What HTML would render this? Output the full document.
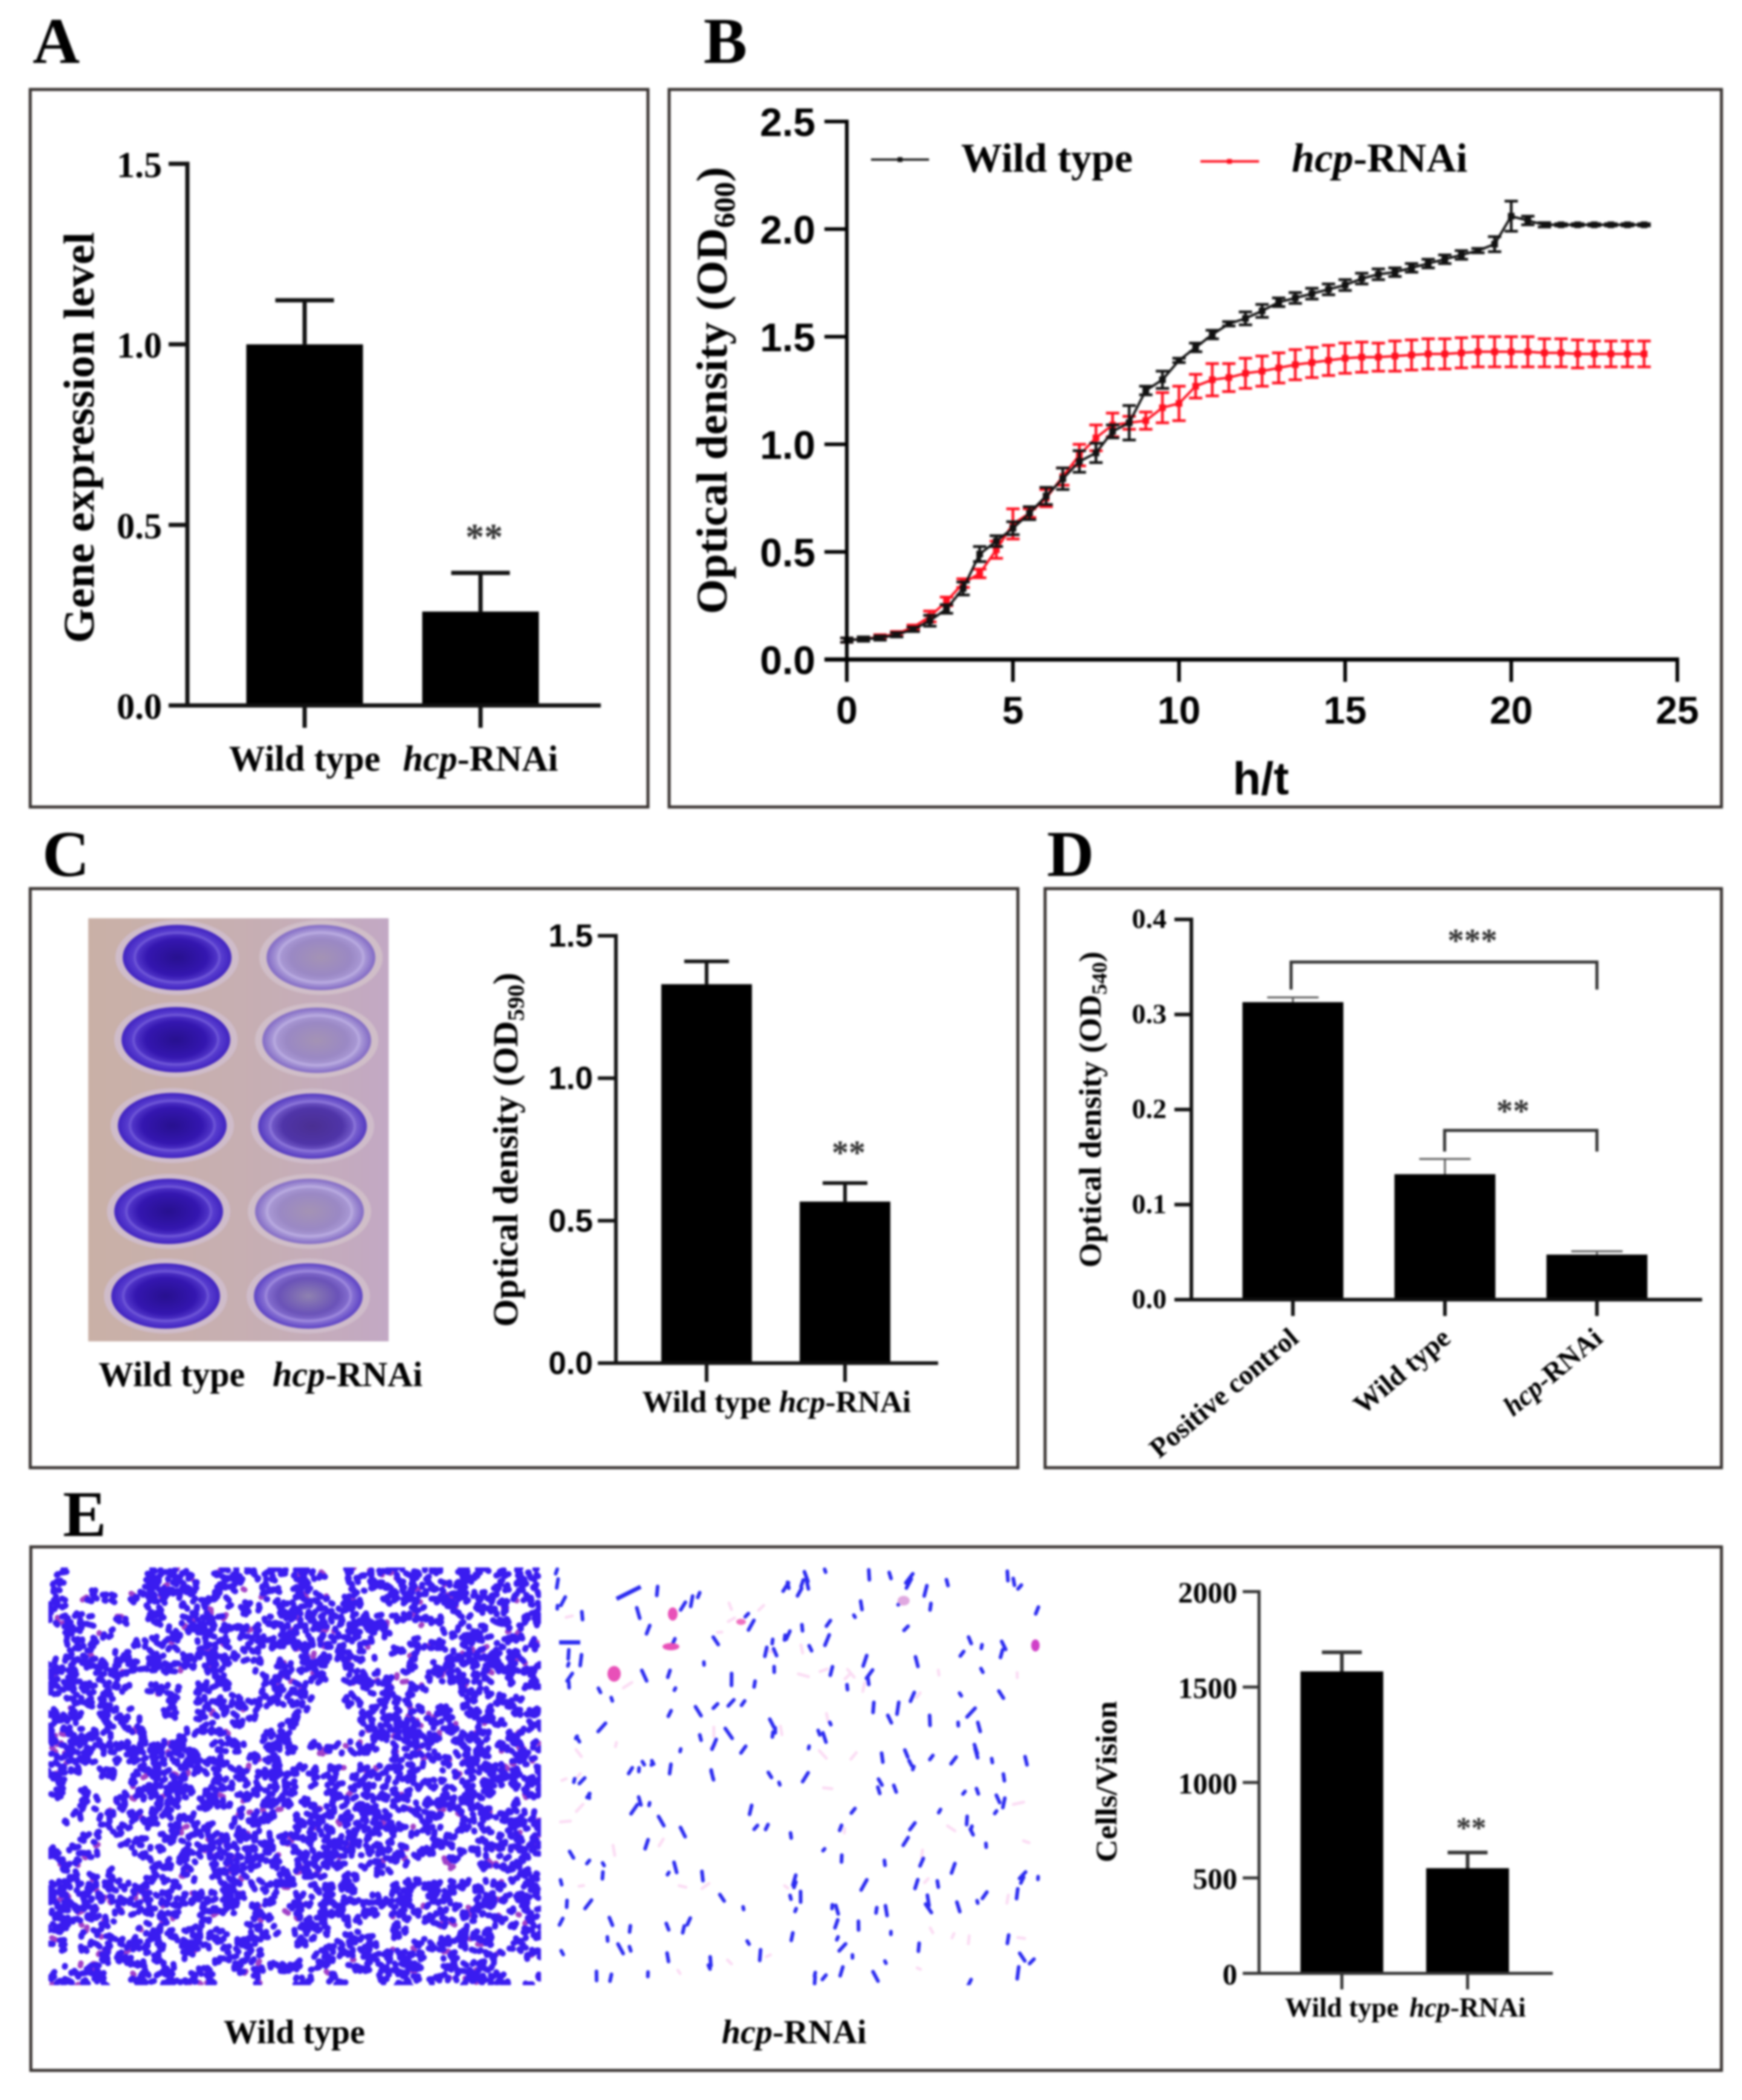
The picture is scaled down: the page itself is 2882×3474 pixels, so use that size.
<!DOCTYPE html>
<html lang="en">
<head>
<meta charset="utf-8">
<title>hcp-RNAi phenotype figure</title>
<style>
html,body{margin:0;padding:0;background:#fff}
svg{display:block;filter:blur(1.9px)}
text{font-family:"Liberation Serif",serif;font-weight:bold;fill:#000}
.sans{font-family:"Liberation Sans",sans-serif}
.letter{font-size:108px}
</style>
</head>
<body>
<svg id="figure" xmlns="http://www.w3.org/2000/svg" width="2882" height="3474" viewBox="0 0 2882 3474">
  <defs>
    <linearGradient id="plateBg" x1="0" x2="1" y1="0" y2="0"><stop offset="0" stop-color="#c9b0a6"/><stop offset=".6" stop-color="#c6aeb4"/><stop offset="1" stop-color="#c2a8c4"/></linearGradient>
    <radialGradient id="gDark"><stop offset="0" stop-color="#27108f"/><stop offset=".55" stop-color="#3416b0"/><stop offset=".8" stop-color="#5a3fd0"/><stop offset="1" stop-color="#3f22c0"/></radialGradient>
    <radialGradient id="gLight"><stop offset="0" stop-color="#a493b4"/><stop offset=".55" stop-color="#9a88c4"/><stop offset=".8" stop-color="#ac9cd8"/><stop offset="1" stop-color="#8068c4"/></radialGradient>
    <radialGradient id="gMid"><stop offset="0" stop-color="#4a2f92"/><stop offset=".55" stop-color="#4f34a8"/><stop offset=".8" stop-color="#7a62d0"/><stop offset="1" stop-color="#5238c0"/></radialGradient>
    <radialGradient id="gMidLight"><stop offset="0" stop-color="#8f82b0"/><stop offset=".55" stop-color="#6a52b8"/><stop offset=".8" stop-color="#8a74d4"/><stop offset="1" stop-color="#5a40c4"/></radialGradient>
    <g id="wellDark"><ellipse rx="102" ry="62" fill="#cfbcca"/><ellipse rx="90" ry="54" fill="url(#gDark)"/><ellipse rx="70" ry="41" fill="none" stroke="#6d55d6" stroke-width="4"/></g>
    <g id="wellLight"><ellipse rx="102" ry="62" fill="#d0bec8"/><ellipse rx="90" ry="54" fill="url(#gLight)"/><ellipse rx="70" ry="41" fill="none" stroke="#b8aae0" stroke-width="4"/></g>
    <g id="wellMid"><ellipse rx="102" ry="62" fill="#cfbcca"/><ellipse rx="90" ry="54" fill="url(#gMid)"/><ellipse rx="70" ry="41" fill="none" stroke="#8a74d8" stroke-width="4"/></g>
    <g id="wellMidLight"><ellipse rx="102" ry="62" fill="#cfbcca"/><ellipse rx="90" ry="54" fill="url(#gMidLight)"/><ellipse rx="70" ry="41" fill="none" stroke="#9c88dc" stroke-width="4"/></g>
    <clipPath id="clipWild"><rect x="80" y="2593" width="815" height="691"/></clipPath>
    <clipPath id="clipRnai"><rect x="915" y="2593" width="818" height="691"/></clipPath>
  </defs>
  <rect width="2882" height="3474" fill="#fff"/>

  <g fill="none" stroke="#3a3533" stroke-width="5">
    <rect x="50" y="148" width="1022" height="1187"/>
    <rect x="1107" y="148" width="1741" height="1187"/>
    <rect x="50" y="1470" width="1634" height="958"/>
    <rect x="1729" y="1470" width="1119" height="958"/>
    <rect x="51" y="2559" width="2797" height="866"/>
  </g>

  <text class="letter" x="54" y="104">A</text>
  <text class="letter" x="1164" y="104">B</text>
  <text class="letter" x="70" y="1449">C</text>
  <text class="letter" x="1732" y="1449">D</text>
  <text class="letter" x="104" y="2541">E</text>

  <!-- Panel C plate photograph -->
  <g>
    <rect x="146" y="1519" width="497" height="700" fill="url(#plateBg)"/>
    <use href="#wellDark" x="293" y="1584"/>
    <use href="#wellDark" x="291" y="1720"/>
    <use href="#wellDark" x="285" y="1862"/>
    <use href="#wellDark" x="279" y="2004"/>
    <use href="#wellDark" x="274" y="2144"/>
    <use href="#wellLight" x="531" y="1584"/>
    <use href="#wellLight" x="524" y="1721"/>
    <use href="#wellMid" x="517" y="1863"/>
    <use href="#wellLight" x="512" y="2004"/>
    <use href="#wellMidLight" x="510" y="2144"/>
  </g>
  <text x="163" y="2293" font-size="58">Wild type</text>
  <text x="451" y="2293" font-size="58"><tspan font-style="italic">hcp</tspan>-RNAi</text>

  <!-- Panel E micrographs -->
  <g clip-path="url(#clipWild)">
    <path id="rodsWildPink" fill="none" stroke="#a040c8" stroke-width="9" stroke-linecap="round"/>
    <path id="rodsWildBlue" fill="none" stroke="#3a1cf0" stroke-width="10" stroke-linecap="round"/>
  </g>
  <g clip-path="url(#clipRnai)">
    <path id="rodsRnaiPink" fill="none" stroke="#fbdcf4" stroke-width="5" stroke-linecap="round"/>
    <path id="rodsRnaiBlue" fill="none" stroke="#2a2af0" stroke-width="6" stroke-linecap="round"/>
    <ellipse cx="1113" cy="2670" rx="8" ry="11" fill="#e850b8"/>
    <ellipse cx="1016" cy="2769" rx="11" ry="13" fill="#e850b8"/>
    <ellipse cx="1110" cy="2724" rx="14" ry="6" fill="#e850b8"/>
    <ellipse cx="1495" cy="2648" rx="10" ry="8" fill="#e0a8e0"/>
    <ellipse cx="1713" cy="2722" rx="7" ry="10" fill="#d040c8"/>
    <ellipse cx="1226" cy="2683" rx="8" ry="5" fill="#f070c0"/>
    <path d="M1020 2645 L1060 2625 M925 2717 L960 2717" stroke="#2a2af0" stroke-width="7" fill="none"/>
  </g>
  <text x="370" y="3380" font-size="56">Wild type</text>
  <text x="1194" y="3380" font-size="56"><tspan font-style="italic">hcp</tspan>-RNAi</text>

  <g id="chartA"></g>
  <g id="chartB"></g>
  <g id="chartC"></g>
  <g id="chartD"></g>
  <g id="chartE"></g>
</svg>

<script>
// ---- Panel A data ----
const aCategories = ['Wild type', 'hcp-RNAi'];
const aValues = [1.0, 0.26];
const aErrors = [0.122, 0.107];
const aTickLabels = ['0.0', '0.5', '1.0', '1.5'];
const aSignificance = ['', '**'];

// ---- Panel C data ----
const cCategories = ['Wild type', 'hcp-RNAi'];
const cValues = [1.33, 0.567];
const cErrors = [0.08, 0.065];
const cTickLabels = ['0.0', '0.5', '1.0', '1.5'];
const cSignificance = ['', '**'];

// ---- Panel D data ----
const dCategories = ['Positive control', 'Wild type', 'hcp-RNAi'];
const dValues = [0.313, 0.132, 0.0474];
const dErrors = [0.005, 0.016, 0.0035];
const dTickLabels = ['0.0', '0.1', '0.2', '0.3', '0.4'];

// ---- Panel E data ----
const eCategories = ['Wild type', 'hcp-RNAi'];
const eValues = [1582, 551];
const eErrors = [100, 82];
const eTickLabels = ['0', '500', '1000', '1500', '2000'];
const eSignificance = ['', '**'];

// ---- Panel B data ----
const bTimes = [0,0.5,1,1.5,2,2.5,3,3.5,4,4.5,5,5.5,6,6.5,7,7.5,8,8.5,9,9.5,10,10.5,11,11.5,12,12.5,13,13.5,14,14.5,15,15.5,16,16.5,17,17.5,18,18.5,19,19.5,20,20.5,21,21.5,22,22.5,23,23.5,24];
const bWildValues = [0.09,0.095,0.10,0.115,0.14,0.18,0.235,0.33,0.49,0.55,0.61,0.68,0.76,0.84,0.92,0.96,1.06,1.10,1.25,1.30,1.39,1.45,1.51,1.56,1.585,1.62,1.66,1.68,1.70,1.72,1.74,1.77,1.79,1.80,1.82,1.84,1.86,1.88,1.90,1.93,2.06,2.04,2.02,2.02,2.02,2.02,2.02,2.02,2.02];
const bWildErrors = [0.01,0.01,0.01,0.01,0.01,0.025,0.02,0.03,0.035,0.025,0.03,0.03,0.04,0.05,0.05,0.045,0.03,0.08,0.02,0.04,0.01,0.02,0.02,0.01,0.03,0.03,0.02,0.025,0.025,0.025,0.025,0.025,0.025,0.02,0.02,0.02,0.02,0.02,0.01,0.035,0.07,0.02,0.01,0.005,0.005,0.005,0.005,0.005,0.005];
const bRnaiValues = [0.09,0.095,0.105,0.12,0.15,0.20,0.27,0.355,0.40,0.51,0.63,0.68,0.75,0.85,0.95,1.03,1.09,1.10,1.11,1.17,1.19,1.27,1.30,1.31,1.33,1.34,1.355,1.37,1.38,1.39,1.40,1.405,1.405,1.41,1.415,1.42,1.42,1.425,1.43,1.43,1.43,1.43,1.425,1.425,1.42,1.42,1.42,1.42,1.42];
const bRnaiErrors = [0.01,0.005,0.01,0.01,0.01,0.025,0.02,0.02,0.02,0.04,0.07,0.02,0.04,0.04,0.05,0.06,0.055,0.03,0.04,0.07,0.08,0.055,0.075,0.065,0.07,0.07,0.07,0.07,0.07,0.07,0.07,0.07,0.065,0.07,0.07,0.07,0.07,0.07,0.07,0.07,0.07,0.07,0.065,0.065,0.065,0.06,0.06,0.06,0.06];
const bXTickLabels = ['0', '5', '10', '15', '20', '25'];
const bYTickLabels = ['0.0', '0.5', '1.0', '1.5', '2.0', '2.5'];

// ---- Micrograph texture density (relative cell coverage by image region) ----
const wildDensity = [
  [.5,.4,.8,.7,.7,.6,.8,.9,.9,.8],
  [.6,.4,.5,.7,.6,.8,.6,.7,.6,.6],
  [.5,.5,.8,.7,.7,.8,.5,.7,.7,.7],
  [.6,.7,.5,.6,.6,.5,.7,.6,.8,.7],
  [.8,.8,.4,.7,.5,.4,.7,.95,.7,.7],
  [.6,.7,.8,.6,.8,.5,.6,.7,.7,.9],
  [.5,.4,.7,.9,.8,.6,.8,.8,.7,.7],
  [.2,.4,.7,.7,.6,1,.9,.7,.7,.7],
  [.6,.5,.7,.8,.7,.6,.8,.7,.6,.6],
  [.9,.7,.8,.9,.5,.8,.6,.8,.7,.8],
  [.7,.7,.7,.6,.5,.8,.7,.4,.7,.6],
  [.6,.8,.7,.6,.7,.6,.7,.6,.7,.7]
];

const SVGNS = 'http://www.w3.org/2000/svg';
function mk(parent, tag, attrs, content) {
  const el = document.createElementNS(SVGNS, tag);
  for (const k in attrs) el.setAttribute(k, attrs[k]);
  if (content !== undefined) el.textContent = content;
  parent.appendChild(el);
  return el;
}
function mkLine(parent, x1, y1, x2, y2, stroke, width) {
  return mk(parent, 'line', {x1: x1, y1: y1, x2: x2, y2: y2, stroke: stroke, 'stroke-width': width});
}
function fillCategory(el, cat) {
  if (cat.indexOf('hcp') === 0) {
    mk(el, 'tspan', {'font-style': 'italic'}, 'hcp');
    mk(el, 'tspan', {}, cat.slice(3));
  } else {
    el.textContent = cat;
  }
}
function yTitle(parent, x, yBottom, len, size, main, sub) {
  const t = mk(parent, 'text', {
    transform: 'translate(' + x + ' ' + yBottom + ') rotate(-90)',
    'font-size': size, textLength: len, lengthAdjust: 'spacingAndGlyphs'
  });
  
  
  if (sub) {
    mk(t, 'tspan', {}, main);
    mk(t, 'tspan', {dy: size * 0.18, 'font-size': size * 0.68}, sub);
    mk(t, 'tspan', {dy: -size * 0.18}, ')');
  } else {
    t.textContent = main;
  }
}

function drawBarChart(group, categories, values, errors, tickLabels, significance, o) {
  const yMax = parseFloat(tickLabels[tickLabels.length - 1]);
  const y = v => o.yBase - v / yMax * (o.yBase - o.yTop);
  const x = i => o.firstCenter + i * o.step;

  values.forEach((v, i) => {
    const bar = mk(group, 'rect', {x: x(i) - o.barW / 2, y: y(v), width: o.barW, height: o.yBase - y(v), fill: '#000'});
    
    
    const stem = mkLine(group, x(i), y(v), x(i), y(v + errors[i]), o.errColor || '#111', o.errStem || 6);
    
    
    const cap = mkLine(group, x(i) - o.capW / 2, y(v + errors[i]), x(i) + o.capW / 2, y(v + errors[i]), o.errColor || '#111', o.errStem || 6);
    
    
    const tick = mkLine(group, x(i), o.yBase, x(i), o.tickBottom, o.axisColor, o.axisW);
    
    

    if (!o.rotateLabels) {
      const lab = mk(group, 'text', {x: x(i), y: o.catBaseline, 'text-anchor': 'middle', 'font-size': o.catFont});
      
      
      fillCategory(lab, categories[i]);
    } else {
      const lab = mk(group, 'text', {
        transform: 'translate(' + (x(i) + 12) + ' ' + o.catBaseline + ') rotate(-40)',
        'text-anchor': 'end', 'font-size': o.catFont
      });
      
      
      fillCategory(lab, categories[i]);
    }

    if (significance && significance[i]) {
      const star = mk(group, 'text', {
        x: x(i) + 6, y: y(v + errors[i]) - o.starGap + o.starFont * 0.47,
        'text-anchor': 'middle', 'font-size': o.starFont, style: 'fill:#333'
      }, significance[i]);
      
      
    }
  });

  const yAxis = mkLine(group, o.axisX, o.yTop - o.axisW / 2, o.axisX, o.yBase, o.axisColor, o.axisW);
  
  
  const xAxis = mkLine(group, o.tickLeft, o.yBase, o.axisEnd, o.yBase, o.axisColor, o.axisW);
  
  

  tickLabels.forEach(label => {
    const v = parseFloat(label);
    const tick = mkLine(group, o.tickLeft, y(v), o.axisX, y(v), o.axisColor, o.axisW);
    
    
    const attrs = {x: o.tickLabelRight, y: y(v) + o.tickLabelDy, 'text-anchor': 'end', 'font-size': o.tickFont};
    if (o.tickSans) attrs.class = 'sans';
    const t = mk(group, 'text', attrs, label);
    
    
  });
  return {x: x, y: y};
}

// ---- Panel A ----
const chartA = document.getElementById('chartA');
drawBarChart(chartA, aCategories, aValues, aErrors, aTickLabels, aSignificance, {
  yBase: 1167, yTop: 271, firstCenter: 504, step: 291, barW: 193, capW: 97, axisX: 310, axisEnd: 994, tickLeft: 279,
  tickBottom: 1204, axisColor: '#111', axisW: 7, errStem: 7, catBaseline: 1275, catFont: 60, tickLabelRight: 268,
  tickLabelDy: 22, tickFont: 60, starGap: 68, starFont: 62
});
yTitle(chartA, 155, 1064, 680, 72, 'Gene expression level');

// ---- Panel C ----
const chartC = document.getElementById('chartC');
drawBarChart(chartC, cCategories, cValues, cErrors, cTickLabels, cSignificance, {
  yBase: 2255, yTop: 1548, firstCenter: 1169, step: 229, barW: 150, capW: 74, axisX: 1019, axisEnd: 1552, tickLeft: 989,
  tickBottom: 2286, axisColor: '#111', axisW: 6, errStem: 6, catBaseline: 2336, catFont: 51, tickLabelRight: 981,
  tickLabelDy: 18, tickFont: 53, tickSans: true, starGap: 58, starFont: 56
});
yTitle(chartC, 856, 2195, 586, 58, 'Optical density (OD', '590');

// ---- Panel D ----
const chartD = document.getElementById('chartD');
drawBarChart(chartD, dCategories, dValues, dErrors, dTickLabels, null, {
  yBase: 2150, yTop: 1521, firstCenter: 2139, step: 251.5, barW: 167, capW: 85, axisX: 1971, axisEnd: 2816, tickLeft: 1943,
  tickBottom: 2177, axisColor: '#111', axisW: 6, errStem: 3, errColor: '#555', catBaseline: 2218, catFont: 46,
  tickLabelRight: 1930, tickLabelDy: 14, tickFont: 46, rotateLabels: true
});
yTitle(chartD, 1821, 2097, 523, 52, 'Optical density (OD', '540');
const bracketOuter = mk(chartD, 'path', {d: 'M2136 1637 V1591.5 H2642 V1637', fill: 'none', stroke: '#333', 'stroke-width': 5});


const bracketInner = mk(chartD, 'path', {d: 'M2390 1905 V1870 H2642 V1905', fill: 'none', stroke: '#333', 'stroke-width': 5});


const starsOuter = mk(chartD, 'text', {x: 2436, y: 1574, 'text-anchor': 'middle', 'font-size': 55, style: 'fill:#333'}, '***');


const starsInner = mk(chartD, 'text', {x: 2503, y: 1856, 'text-anchor': 'middle', 'font-size': 55, style: 'fill:#333'}, '**');



// ---- Panel E ----
const chartE = document.getElementById('chartE');
drawBarChart(chartE, eCategories, eValues, eErrors, eTickLabels, eSignificance, {
  yBase: 3264.5, yTop: 2633, firstCenter: 2220, step: 208, barW: 137, capW: 66, axisX: 2083, axisEnd: 2569, tickLeft: 2056,
  tickBottom: 3291, axisColor: '#333', axisW: 5, errStem: 6, errColor: '#333', catBaseline: 3336, catFont: 45,
  tickLabelRight: 2047, tickLabelDy: 18, tickFont: 49, starGap: 48, starFont: 50
});
yTitle(chartE, 1847, 3081, 267, 50, 'Cells/Vision');

// ---- Panel B ----
const chartB = document.getElementById('chartB');
const bX = t => 1401 + t / 25 * (2775 - 1401);
const bY = v => 1091 - v / 2.5 * (1091 - 201);

function drawSeries(values, errors, color) {
  const series = mk(chartB, 'g', {});
  
  
  values.forEach((v, i) => {
    const hi = bY(v + errors[i]);
    const lo = bY(v - errors[i]);
    const cx = bX(bTimes[i]);
    const err = mk(series, 'path', {
      d: 'M' + (cx - 11) + ' ' + hi + 'H' + (cx + 11) + 'M' + cx + ' ' + hi + 'V' + lo + 'M' + (cx - 11) + ' ' + lo + 'H' + (cx + 11),
      fill: 'none', stroke: color, 'stroke-width': 4.5
    });
    
    
  });
  const pts = values.map((v, i) => bX(bTimes[i]) + ',' + bY(v)).join(' ');
  const line = mk(series, 'polyline', {points: pts, fill: 'none', stroke: color, 'stroke-width': 4});
  
  
  values.forEach((v, i) => {
    const pt = mk(series, 'rect', {x: bX(bTimes[i]) - 5.5, y: bY(v) - 5.5, width: 11, height: 11, fill: color});
    
    
  });
}
drawSeries(bRnaiValues, bRnaiErrors, '#ff0f1f');
drawSeries(bWildValues, bWildErrors, '#111');

const bYAxis = mkLine(chartB, 1401, 198, 1401, 1128, '#000', 6);


const bXAxis = mkLine(chartB, 1364, 1091, 2778, 1091, '#000', 7);


bYTickLabels.forEach(label => {
  const v = parseFloat(label);
  const tick = mkLine(chartB, 1364, bY(v), 1401, bY(v), '#000', 6);
  
  
  const t = mk(chartB, 'text', {class: 'sans', x: 1349, y: bY(v) + 24, 'text-anchor': 'end', 'font-size': 66}, label);
  
  
});
bXTickLabels.forEach(label => {
  const v = parseFloat(label);
  const tick = mkLine(chartB, bX(v), 1091, bX(v), 1128, '#000', 6);
  
  
  const t = mk(chartB, 'text', {class: 'sans', x: bX(v), y: 1197, 'text-anchor': 'middle', 'font-size': 64}, label);
  
  
});
const bXTitle = mk(chartB, 'text', {class: 'sans', x: 2086, y: 1314, 'text-anchor': 'middle', 'font-size': 76}, 'h/t');


yTitle(chartB, 1202, 1016, 740, 72, 'Optical density (OD', '600');

// Legend
const legendWildLine = mkLine(chartB, 1441, 264, 1537, 264, '#111', 3.5);


const legendWildDot = mk(chartB, 'rect', {x: 1485, y: 260, width: 8, height: 8, fill: '#111'});


const legendWildText = mk(chartB, 'text', {x: 1590, y: 284, 'font-size': 68}, 'Wild type');


const legendRnaiLine = mkLine(chartB, 1986, 267, 2083, 267, '#ff0f1f', 4);


const legendRnaiDot = mk(chartB, 'rect', {x: 2030, y: 263, width: 8, height: 8, fill: '#ff0f1f'});


const legendRnaiText = mk(chartB, 'text', {x: 2137, y: 284, 'font-size': 68});


fillCategory(legendRnaiText, 'hcp-RNAi');

// ---- Micrograph texture (deterministic speckle standing in for the photographs) ----
let seed = 12345;
function rnd() { seed = (seed * 1664525 + 1013904223) >>> 0; return seed / 4294967296; }
function segment(cx, cy, angle, len) {
  const dx = Math.cos(angle) * len / 2, dy = Math.sin(angle) * len / 2;
  return 'M' + (cx - dx).toFixed(1) + ' ' + (cy - dy).toFixed(1) + 'L' + (cx + dx).toFixed(1) + ' ' + (cy + dy).toFixed(1);
}
let wildBlue = '', wildPink = '';
const subCols = 3, subRows = 3;
const subW = 815 / 10 / subCols, subH = 691 / 12 / subRows;
wildDensity.forEach((row, r) => row.forEach((d, c) => {
  for (let sc = 0; sc < subCols; sc++) {
    for (let sr = 0; sr < subRows; sr++) {
      if (rnd() > d * 1.05) continue;
      const dots = 4 + Math.floor(rnd() * 5);
      const ox = 80 + (c * subCols + sc) * subW, oy = 2593 + (r * subRows + sr) * subH;
      for (let k = 0; k < dots; k++) {
        const s = segment(ox + rnd() * subW, oy + rnd() * subH, Math.PI * rnd(), 1 + rnd() * 7);
        if (rnd() < 0.07) wildPink += s; else wildBlue += s;
      }
    }
  }
}));
document.getElementById('rodsWildBlue').setAttribute('d', wildBlue);
document.getElementById('rodsWildPink').setAttribute('d', wildPink);
let rnaiBlue = '', rnaiPink = '';
for (let i = 0; i < 230; i++) {
  const a = Math.PI * (0.3 + rnd() * 0.45);
  rnaiBlue += segment(920 + rnd() * 810, 2596 + rnd() * 686, a, 4 + rnd() * 16);
}
for (let i = 0; i < 50; i++) {
  rnaiPink += segment(920 + rnd() * 810, 2596 + rnd() * 686, Math.PI * rnd(), 6 + rnd() * 12);
}
document.getElementById('rodsRnaiBlue').setAttribute('d', rnaiBlue);
document.getElementById('rodsRnaiPink').setAttribute('d', rnaiPink);
</script>
</body>
</html>
